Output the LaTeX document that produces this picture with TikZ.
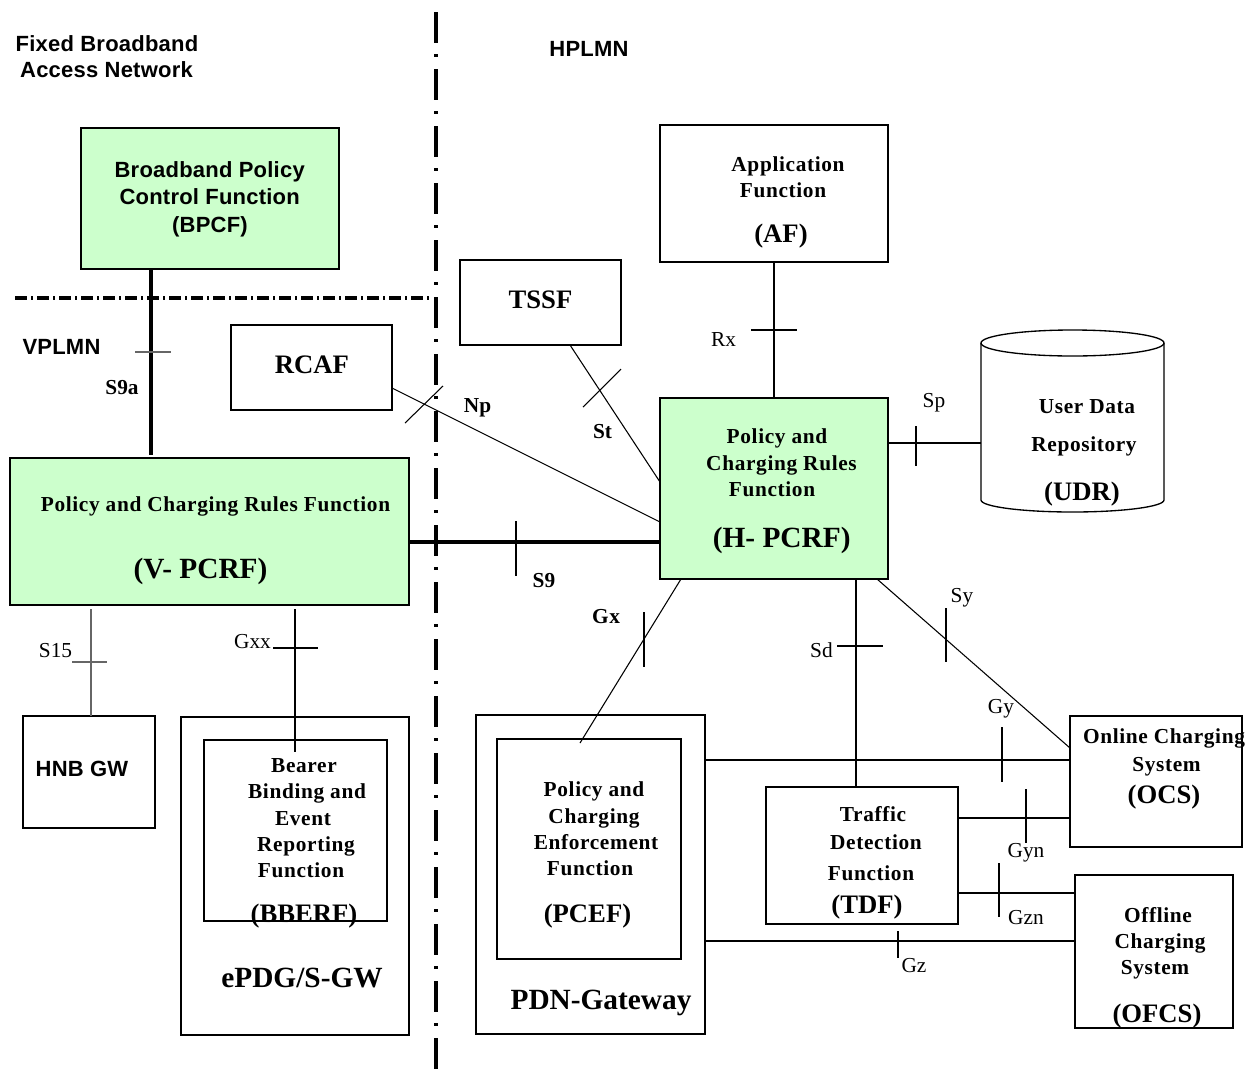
\documentclass[tikz,border=0pt]{standalone}
\usepackage{fontspec}
\setmainfont{Liberation Serif}
\newfontfamily\arialf[LetterSpace=1]{Liberation Sans}
\newfontfamily\tsp[LetterSpace=3]{Liberation Serif}
\definecolor{pgreen}{RGB}{204,255,204}
\newcommand\mkbox[6]{\node[#6, minimum width={(#4-#2)*0.75pt}, minimum height={(#5-#3)*0.75pt}] (#1) at ({(#2+#4)/2},{(#3+#5)/2}) {};}
\tikzset{
 box/.style={draw, line width=1pt, inner sep=0pt, outer sep=0pt},
 gbox/.style={box, fill=pgreen},
 con/.style={line width=0.8pt},
 thk/.style={line width=3pt},
 grycon/.style={line width=0.8pt, draw=black!60},
 vdiv/.style={line width=3.4pt, dash pattern=on 23.25pt off 8.25pt on 2.25pt off 9pt},
 hdiv/.style={line width=2.5pt, dash pattern=on 9pt off 3pt on 1.5pt off 3pt},
 lab/.style={anchor=base, inner sep=0pt, font=\fontsize{16}{19}\selectfont},
 blab/.style={anchor=base, inner sep=0pt, font=\bfseries\fontsize{16}{19}\selectfont},
 desc/.style={anchor=base, inner sep=0pt, font=\tsp\bfseries\fontsize{16}{19}\selectfont},
 bigt/.style={anchor=base, inner sep=0pt, font=\bfseries\fontsize{20}{24}\selectfont},
 hugt/.style={anchor=base, inner sep=0pt, font=\bfseries\fontsize{22}{26}\selectfont},
 sans/.style={anchor=base, inner sep=0pt, font=\arialf\bfseries\fontsize{16.5}{20}\selectfont},
}
\begin{document}
\begin{tikzpicture}[x=0.75pt,y=-0.75pt]
\useasboundingbox[fill=white] (0,0) rectangle (1247,1079);
% boxes
\mkbox{bpcf}{81}{128}{339}{269}{gbox}
\mkbox{af}{660}{125}{888}{262}{box}
\mkbox{tssf}{460}{260}{621}{345}{box}
\mkbox{rcaf}{231}{325}{392}{410}{box}
\mkbox{vpcrf}{10}{458}{409}{605}{gbox}
\mkbox{hpcrf}{660}{398}{888}{579}{gbox}
\mkbox{hnb}{23}{716}{155}{828}{box}
\mkbox{epdg}{181}{717}{409}{1035}{box}
\mkbox{bberf}{204}{740}{387}{921}{box}
\mkbox{pdngw}{476}{715}{705}{1034}{box}
\mkbox{pcef}{497}{739}{681}{959}{box}
\mkbox{tdf}{766}{787}{958}{924}{box}
\mkbox{ocs}{1070}{716}{1242}{847}{box}
\mkbox{ofcs}{1075}{875}{1233}{1028}{box}
\mkbox{udr}{981}{330}{1164}{512}{inner sep=0pt,outer sep=0pt}
% UDR cylinder
\draw[line width=1pt] (udr.west |- 0,343) -- (udr.west |- 0,500) arc[start angle=180,end angle=0,x radius=91.5,y radius=12] -- (udr.east |- 0,343);
\draw[line width=1pt] (1072.5,343) ellipse [x radius=91.5, y radius=13];
% domain dividers
\coordinate (vtop) at (436,12);
\coordinate (vbot) at (436,1079);
\coordinate (hl) at (15,298);
\coordinate (hr) at (433,298);
\draw[vdiv] (vtop) -- (vbot);
\draw[hdiv] (hl) -- (hr);
% connectors
\draw[thk] (bpcf.south -| 151,0) -- ([yshift=2pt]vpcrf.north -| 151,0);
\draw[grycon] (135,352) -- (171,352);
\draw[con] (rcaf.east |- 0,388) -- (hpcrf.west |- 0,522);
\draw[con] (405,423) -- (443,386);
\draw[con] (tssf.south -| 570,0) -- (hpcrf.west |- 0,482);
\draw[con] (583,407) -- (621,369);
\draw[con] (af.south -| 774,0) -- (hpcrf.north -| 774,0);
\draw[con] (751,330) -- (797,330);
\draw[thk] (vpcrf.east |- 0,542) -- (hpcrf.west |- 0,542);
\draw[con] (516,521) -- (516,576);
\draw[con] (hpcrf.east |- 0,443) -- (udr.west |- 0,443);
\draw[con] (916,426) -- (916,466);
\draw[con] (hpcrf.south -| 681,0) -- ([yshift=-3pt]pcef.north -| 580,0);
\draw[con] (644,612) -- (644,667);
\draw[con] (hpcrf.south -| 856,0) -- (tdf.north -| 856,0);
\draw[con] (837,646) -- (883,646);
\draw[con] (hpcrf.south -| 877,0) -- (ocs.west |- 0,748);
\draw[con] (946,608) -- (946,662);
\draw[con] (pdngw.east |- 0,760) -- (ocs.west |- 0,760);
\draw[con] (1002,727) -- (1002,782);
\draw[con] (tdf.east |- 0,818) -- (ocs.west |- 0,818);
\draw[con] (1026,789) -- (1026,843);
\draw[con] (tdf.east |- 0,893) -- (ofcs.west |- 0,893);
\draw[con] (999,863) -- (999,917);
\draw[con] (pdngw.east |- 0,941) -- (ofcs.west |- 0,941);
\draw[con] (898,931) -- (898,958);
\draw[grycon] ([yshift=-3pt]vpcrf.south -| 91,0) -- (hnb.north -| 91,0);
\draw[grycon] (72,662) -- (107,662);
\draw[con] ([yshift=-3pt]vpcrf.south -| 295,0) -- ([yshift=-9pt]bberf.north -| 295,0);
\draw[con] (273,648) -- (318,648);
% region labels
\node[sans] (fba1) at (107,51) {Fixed Broadband};
\node[sans] (fba2) at (106.5,77) {Access Network};
\node[sans] (hplmn) at (589,56) {HPLMN};
\node[sans] (vplmn) at (61.5,354) {VPLMN};
% box texts
\node[sans] (t1) at (209.7,177) {Broadband Policy};
\node[sans] (t2) at (209.7,204) {Control Function};
\node[sans] (t3) at (210,232.7) {(BPCF)};
\node[desc] (t4) at (788,171) {Application};
\node[desc] (t5) at (783,197) {Function};
\node[bigt] (t6) at (781,242) {(AF)};
\node[bigt] (t7) at (540.5,308) {TSSF};
\node[bigt] (t8) at (312,373) {RCAF};
\node[desc] (t9) at (215.5,511) {Policy and Charging Rules Function};
\node[hugt] (t10) at (200.5,578) {(V- PCRF)};
\node[desc] (t11) at (777,443) {Policy and};
\node[desc] (t12) at (781.5,470) {Charging Rules};
\node[desc] (t13) at (772,496) {Function};
\node[hugt] (t14) at (781.7,547) {(H- PCRF)};
\node[desc] (t15) at (1087,413) {User Data};
\node[desc] (t16) at (1084,451) {Repository};
\node[bigt] (t17) at (1082,500) {(UDR)};
\node[sans] (t18) at (82,776) {HNB GW};
\node[desc] (t19) at (304,772) {Bearer};
\node[desc] (t20) at (307,798) {Binding and};
\node[desc] (t21) at (303,825) {Event};
\node[desc] (t22) at (306,851) {Reporting};
\node[desc] (t23) at (301,877) {Function};
\node[bigt] (t24) at (304,922) {(BBERF)};
\node[hugt] (t25) at (302,987) {ePDG/S-GW};
\node[desc] (t26) at (594,796) {Policy and};
\node[desc] (t27) at (594,823) {Charging};
\node[desc] (t28) at (596,849) {Enforcement};
\node[desc] (t29) at (590,875) {Function};
\node[bigt] (t30) at (587.5,922) {(PCEF)};
\node[hugt] (t31) at (601,1009) {PDN-Gateway};
\node[desc] (t32) at (873,821) {Traffic};
\node[desc] (t33) at (876,849) {Detection};
\node[desc] (t34) at (871,880) {Function};
\node[bigt] (t35) at (867,913) {(TDF)};
\node[desc] (t36) at (1164,743) {Online Charging};
\node[desc] (t37) at (1166.5,771) {System};
\node[bigt] (t38) at (1164,803) {(OCS)};
\node[desc] (t39) at (1158,922) {Offline};
\node[desc] (t40) at (1160,948) {Charging};
\node[desc] (t41) at (1155,974) {System};
\node[bigt] (t42) at (1157,1022) {(OFCS)};
% interface labels
\node[blab] (s9a) at (122,394) {S9a};
\node[blab] (np) at (477.5,412) {Np};
\node[blab] (st) at (602.5,438) {St};
\node[lab] (rx) at (723.5,346) {Rx};
\node[lab] (sp) at (934,407) {Sp};
\node[blab] (s9) at (544,587) {S9};
\node[desc] (gx) at (606,623) {Gx};
\node[lab] (sd) at (821.5,657) {Sd};
\node[lab] (sy) at (962,602) {Sy};
\node[lab] (gy) at (1001,713) {Gy};
\node[lab] (gyn) at (1026,857) {Gyn};
\node[lab] (gzn) at (1026,924) {Gzn};
\node[lab] (gz) at (914,972) {Gz};
\node[lab] (s15) at (55.5,657) {S15};
\node[lab] (gxx) at (252.5,648) {Gxx};
\end{tikzpicture}
\end{document}
